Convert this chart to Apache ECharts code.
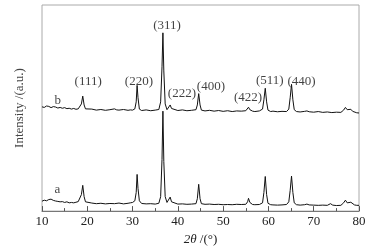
<!DOCTYPE html>
<html>
<head>
<meta charset="utf-8">
<script src="https://cdn.jsdelivr.net/npm/echarts@6/dist/echarts.min.js"></script>
<style>
  html,body{margin:0;padding:0;background:#fff;}
  #xrd{width:382px;height:251px;}
</style>
</head>
<body>
<div id="xrd"></div>
<script>
// 2theta (deg), intensity (a.u., arbitrary offset scale)
let patternA = [
  [10,4.8],[10.5,5.3],[11,5.0],[11.5,5.6],[12,5.8],[12.5,5.2],[13,4.9],[13.5,4.7],[14,4.5],[14.5,4.6],
  [15,4.2],[15.5,4.5],[16,4.0],[16.5,4.2],[17,4.0],[17.5,4.3],[18,4.6],[18.4,5.5],[18.7,8],[19.0,12.5],
  [19.3,7],[19.6,4.5],[20,3.8],[21,3.9],[22,3.6],[23,3.8],[24,3.5],[25,3.7],[26,3.6],[27,3.9],
  [28,3.5],[29,3.8],[29.5,4.0],[30,4.2],[30.5,5.0],[30.8,9],[31.0,17.8],[31.2,11],[31.5,5],[32,3.7],
  [33,3.5],[34,3.6],[35,3.4],[35.8,3.8],[36.2,7],[36.5,25],[36.7,48.5],[36.9,24],[37.2,7],[37.6,4.2],
  [38.0,4.3],[38.3,6.8],[38.6,4.5],[39,3.6],[40,3.4],[41,3.5],[42,3.3],[43,3.4],[44,3.6],[44.3,6],
  [44.6,13],[44.9,6],[45.2,3.6],[46,3.3],[47,3.4],[48,3.2],[49,3.3],[50,3.1],[51,3.2],[52,3.1],
  [53,3.3],[54,3.2],[55,3.3],[55.4,4.5],[55.6,6.2],[55.9,4.2],[56.5,3.2],[57,3.1],[58,3.2],[58.7,4],
  [59.0,9],[59.3,16.8],[59.6,8],[59.9,3.8],[60.5,3.1],[61,3.0],[62,2.9],[63,3.0],[64,3.2],[64.5,4.5],
  [64.8,10],[65.1,17],[65.4,9],[65.7,4],[66.2,3.1],[67,2.9],[68,3.1],[68.5,3.4],[69,3.0],[70,2.9],
  [71,2.8],[72,2.9],[73,2.8],[73.7,3.6],[74.2,2.9],[75,2.7],[76,2.8],[76.6,4],[77,5.3],[77.4,4],
  [77.8,3.8],[78.2,4.3],[78.6,3.4],[79,3.0],[79.5,2.8],[80,2.8]
];
let patternB = [
  [10,50.6],[10.5,50.3],[11,51.0],[11.5,50.8],[12,50.2],[12.5,50.7],[13,50.5],[13.5,50.0],[14,50.3],[14.5,49.9],
  [15,50.2],[15.5,49.7],[16,49.9],[16.5,49.5],[17,49.8],[17.5,49.4],[18,49.6],[18.4,50.2],[18.7,52],[19.0,55.8],
  [19.3,51.5],[19.6,49.6],[20,49.3],[21,49.5],[22,49.0],[23,49.3],[24,48.9],[25,49.2],[26,49.6],[26.5,49.1],
  [27,49.0],[28,49.3],[29,48.9],[29.5,49.1],[30,49.0],[30.5,49.6],[30.8,53],[31.0,61],[31.2,55],[31.5,49.5],
  [32,48.8],[33,49.1],[34,48.7],[35,49.0],[35.8,49.3],[36.2,53],[36.5,70],[36.7,86.5],[36.9,68],[37.2,52],
  [37.6,49.2],[38.0,49.6],[38.3,51.5],[38.6,49.8],[39,49.0],[40,48.8],[41,49.1],[42,48.7],[43,48.9],[44,49.2],
  [44.3,51.5],[44.6,57],[44.9,51.5],[45.2,49.0],[46,48.6],[47,48.9],[48,48.5],[49,48.8],[50,48.4],[51,48.7],
  [52,48.3],[53,48.6],[54,48.5],[55,48.7],[55.4,49.6],[55.6,50.4],[55.9,49.2],[56.5,48.5],[57,48.3],[58,48.6],
  [58.7,49.5],[59.0,54],[59.3,59.6],[59.6,53],[59.9,49.0],[60.5,48.3],[61,48.5],[62,48.2],[63,48.4],[64,48.3],
  [64.5,49.5],[64.8,55],[65.1,61.5],[65.4,54],[65.7,49.2],[66.2,48.3],[67,48.1],[68,48.4],[68.5,48.6],[69,48.2],
  [70,48.0],[71,48.3],[72,47.9],[73,48.1],[74,47.8],[75,48.0],[76,47.9],[76.6,49.0],[77,50.3],[77.4,49.2],
  [77.8,49.0],[78.2,49.4],[78.6,48.4],[79,48.0],[79.5,47.7],[80,47.6]
];
// peak indices and where their text sits
let hklNames = ['(111)','(220)','(311)','(222)','(400)','(422)','(511)','(440)','b','a'];
let hklPos = [[20.2,63],[31.4,63],[37.6,89.8],[40.9,56.8],[47.3,60.4],[55.5,55.1],[60.3,63.1],[67.3,63],[13.5,53.5],[13.4,10.2]];

let xrd = echarts.init(document.getElementById('xrd'));
let font = 'Liberation Serif, Times New Roman, serif';

xrd.setOption({
  animation:false,
  textStyle:{fontFamily:font},
  grid:{left:42,right:23,top:5,bottom:38,show:true,borderColor:'#aaa',borderWidth:1},
  xAxis:{
    type:'value',min:10,max:80,interval:10,
    axisLine:{lineStyle:{color:'#777',width:1}},
    axisTick:{inside:true,length:5,lineStyle:{color:'#555'}},
    minorTick:{show:true,splitNumber:2,length:3,lineStyle:{color:'#555'}},
    splitLine:{show:false},
    axisLabel:{color:'#222',fontSize:13,fontFamily:font,margin:4},
    name:'{i|2θ} /(°)',
    nameLocation:'middle',
    nameGap:21,
    nameTextStyle:{color:'#222',fontSize:13,fontFamily:font,
      rich:{i:{fontStyle:'italic',fontSize:13,fontFamily:font,color:'#222'}}}
  },
  yAxis:{
    type:'value',min:0,max:100,
    axisLine:{show:false},axisTick:{show:false},axisLabel:{show:false},splitLine:{show:false},
    name:'Intensity /(a.u.)',
    nameLocation:'middle',
    nameGap:16,
    nameTextStyle:{color:'#444',fontSize:13,fontFamily:font}
  },
  series:[
    {name:'a',type:'line',data:patternA,symbol:'none',lineStyle:{color:'#111',width:1}},
    {name:'b',type:'line',data:patternB,symbol:'none',lineStyle:{color:'#111',width:1}},
    {
      type:'scatter',symbolSize:0,
      data:hklPos.map((p,i)=>({value:p,name:hklNames[i]})),
      label:{show:true,position:'inside',formatter:'{b}',color:'#111',fontSize:13,fontFamily:font},
      silent:true
    }
  ]
});
</script>
</body>
</html>
